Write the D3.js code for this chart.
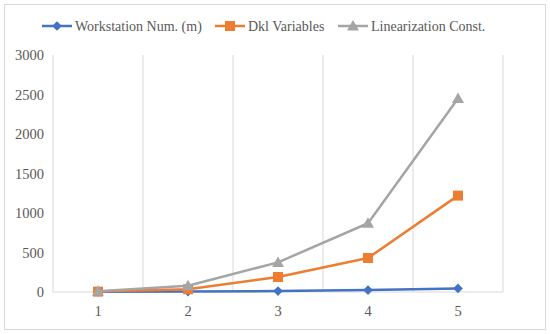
<!DOCTYPE html>
<html>
<head>
<meta charset="utf-8">
<script src="https://cdn.jsdelivr.net/npm/d3@7"></script>
<style>
  body { margin: 0; background: #fff; }
  text { font-family: "Liberation Serif", "Times New Roman", serif; }
</style>
</head>
<body>
<div id="chart"></div>
<script>
//chart data
const categories = ["1", "2", "3", "4", "5"];
const workstation = [2, 6, 12, 25, 45];
const dklVariables = [5, 35, 190, 430, 1220];
const linearization = [10, 80, 375, 870, 2450];
const yTicks = [0, 500, 1000, 1500, 2000, 2500, 3000];
const seriesNames = ["Workstation Num. (m)", "Dkl Variables", "Linearization Const."];

const series = [
    { name: seriesNames[0], values: workstation, color: "#4472C4", marker: "diamond" },
    { name: seriesNames[1], values: dklVariables, color: "#ED7D31", marker: "square" },
    { name: seriesNames[2], values: linearization, color: "#A5A5A5", marker: "triangle" }
];

const width = 550, height = 334;
const margin = { top: 55, right: 47, bottom: 42, left: 53 };

const svg = d3.select("#chart").append("svg")
    .attr("width", width)
    .attr("height", height);

//outer frame
svg.append("rect")
    .attr("x", 4.5).attr("y", 4.5)
    .attr("width", width - 9).attr("height", height - 9)
    .attr("fill", "#fff")
    .attr("stroke", "#d9d9d9");

//scales
const x = d3.scaleBand()
    .domain(categories)
    .range([margin.left, width - margin.right]);

const y = d3.scaleLinear()
    .domain([0, 3000])
    .range([height - margin.bottom, margin.top]);

//vertical gridlines at category boundaries
const bounds = categories.map(function(c){ return x(c); }).concat([x.range()[1]]);
svg.append("g").selectAll("line")
    .data(bounds)
    .enter().append("line")
    .attr("x1", function(d){ return d; })
    .attr("x2", function(d){ return d; })
    .attr("y1", y(3000))
    .attr("y2", y(0))
    .attr("stroke", "#d9d9d9")
    .attr("stroke-width", 1);

//baseline
svg.append("line")
    .attr("x1", x.range()[0]).attr("x2", x.range()[1])
    .attr("y1", y(0)).attr("y2", y(0))
    .attr("stroke", "#d9d9d9");

//y axis labels
const yAxis = d3.axisLeft(y).tickValues(yTicks).tickFormat(d3.format("d")).tickSize(0).tickPadding(9);
const yg = svg.append("g")
    .attr("transform", "translate(" + margin.left + ",0)")
    .call(yAxis);
yg.select(".domain").remove();
yg.selectAll("text")
    .attr("fill", "#595959")
    .style("font-size", "14.5px")
    .style("font-family", "Liberation Serif, serif");

//x axis labels
const xAxis = d3.axisBottom(x).tickSize(0).tickPadding(14);
const xg = svg.append("g")
    .attr("transform", "translate(0," + y(0) + ")")
    .call(xAxis);
xg.select(".domain").remove();
xg.selectAll("text")
    .attr("fill", "#595959")
    .style("font-size", "14.5px")
    .style("font-family", "Liberation Serif, serif");

//marker shapes
function markerPath(type){
    if (type === "diamond") return d3.symbol().type(d3.symbolDiamond2).size(60)();
    if (type === "square") return "M-5,-5L5,-5L5,5L-5,5Z";
    return "M0,-6L6,4.5L-6,4.5Z";
}

const line = d3.line()
    .x(function(d, i){ return x(categories[i]) + x.bandwidth() / 2; })
    .y(function(d){ return y(d); });

//draw series
series.forEach(function(s){
    const g = svg.append("g");
    g.append("path")
        .attr("d", line(s.values))
        .attr("fill", "none")
        .attr("stroke", s.color)
        .attr("stroke-width", 2.5)
        .attr("stroke-linejoin", "round");

    g.selectAll("path.mk")
        .data(s.values)
        .enter().append("path")
        .attr("class", "mk")
        .attr("transform", function(d, i){
            return "translate(" + (x(categories[i]) + x.bandwidth() / 2) + "," + y(d) + ")";
        })
        .attr("d", markerPath(s.marker))
        .attr("fill", s.color);
});

//legend
const legendX = [42, 215, 338];
const legend = svg.append("g").selectAll("g")
    .data(series)
    .enter().append("g")
    .attr("transform", function(d, i){ return "translate(" + legendX[i] + ",26)"; });

legend.append("line")
    .attr("x1", 0).attr("x2", 30)
    .attr("stroke", function(d){ return d.color; })
    .attr("stroke-width", 2.5);

legend.append("path")
    .attr("transform", "translate(15,0)")
    .attr("d", function(d){ return markerPath(d.marker); })
    .attr("fill", function(d){ return d.color; });

legend.append("text")
    .attr("x", 33)
    .attr("dy", "0.35em")
    .attr("fill", "#595959")
    .style("font-size", "14px")
    .text(function(d){ return d.name; });
</script>
</body>
</html>
